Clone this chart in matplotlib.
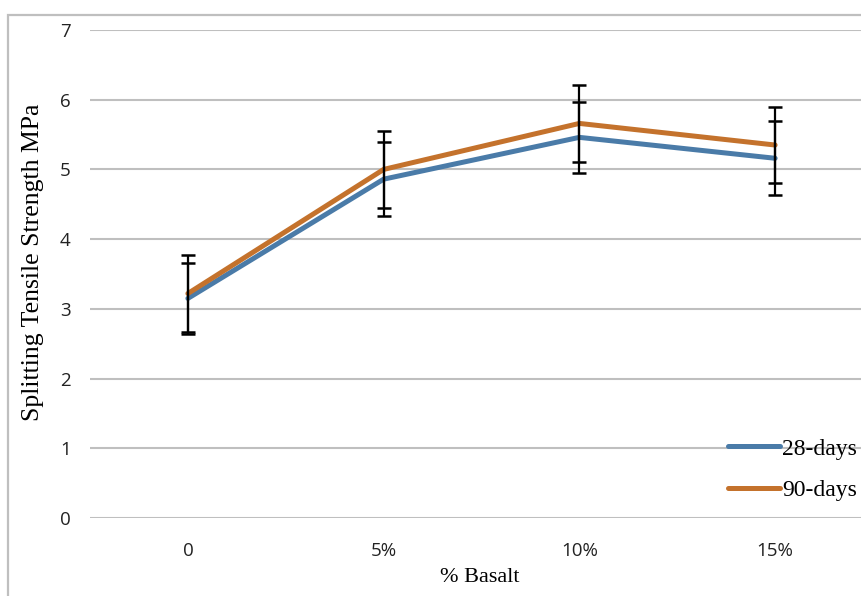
import matplotlib.pyplot as plt
from matplotlib.patches import Rectangle

# data
categories = ['0', '5%', '10%', '15%']
days28 = [3.15, 4.86, 5.46, 5.16]
days90 = [3.22, 5.00, 5.66, 5.35]
err28 = [0.51, 0.53, 0.51, 0.53]
err90 = [0.55, 0.55, 0.55, 0.55]
yticks = [0, 1, 2, 3, 4, 5, 6, 7]

W, H = 861, 596
fig = plt.figure(figsize=(W / 100, H / 100), dpi=100)

# axes run past the right edge, the reference is cropped there
ax = fig.add_axes([90 / W, (H - 518) / H, 783 / W, 488 / H])

x = list(range(len(categories)))
ax.plot(x, days28, color='#4A7BA8', lw=3.6, label='28-days', zorder=3,
        solid_capstyle='round')
ax.plot(x, days90, color='#C4722C', lw=3.6, label='90-days', zorder=3,
        solid_capstyle='round')
ax.errorbar(x, days90, yerr=err90, fmt='none', ecolor='black', elinewidth=1.6,
            capsize=5, capthick=1.8, zorder=4)
ax.errorbar(x, days28, yerr=err28, fmt='none', ecolor='black', elinewidth=1.6,
            capsize=5, capthick=1.8, zorder=4)

ax.set_xlim(-0.5, 3.5)
ax.set_ylim(0, 7)
ax.set_yticks(yticks)
ax.set_xticks(x)
ax.set_xticklabels(categories)
ax.grid(axis='y', color='#BFBFBF', lw=1.5)
ax.set_axisbelow(True)
for s in ax.spines.values():
    s.set_visible(False)
ax.tick_params(length=0, labelsize=13.5, colors='#222222')
ax.tick_params(axis='y', pad=14)
ax.tick_params(axis='x', pad=17)
for lab in ax.get_xticklabels() + ax.get_yticklabels():
    lab.set_family('Open Sans')

fig.text(480 / W, 1 - 578 / H, '% Basalt', family='Liberation Serif',
         fontsize=16, ha='center', va='center')
fig.text(33 / W, 1 - 262 / H, 'Splitting Tensile Strength MPa',
         family='Liberation Serif', fontsize=18.5, rotation=90,
         ha='center', va='center')

ax.legend(loc='upper left', bbox_to_anchor=(728 / W, 1 - 438 / H),
          bbox_transform=fig.transFigure, frameon=False, borderpad=0,
          borderaxespad=0, handlelength=2.2, handletextpad=0.1,
          labelspacing=0.85, prop={'family': 'Liberation Serif', 'size': 17})

# outer chart frame, cropped at right and bottom
fig.patches.append(Rectangle((8 / W, -0.1), 1.2, 1.1 - 15 / H,
                             transform=fig.transFigure, fill=False,
                             edgecolor='#BFBFBF', lw=1.6))

fig.savefig('out.png', dpi=100)
